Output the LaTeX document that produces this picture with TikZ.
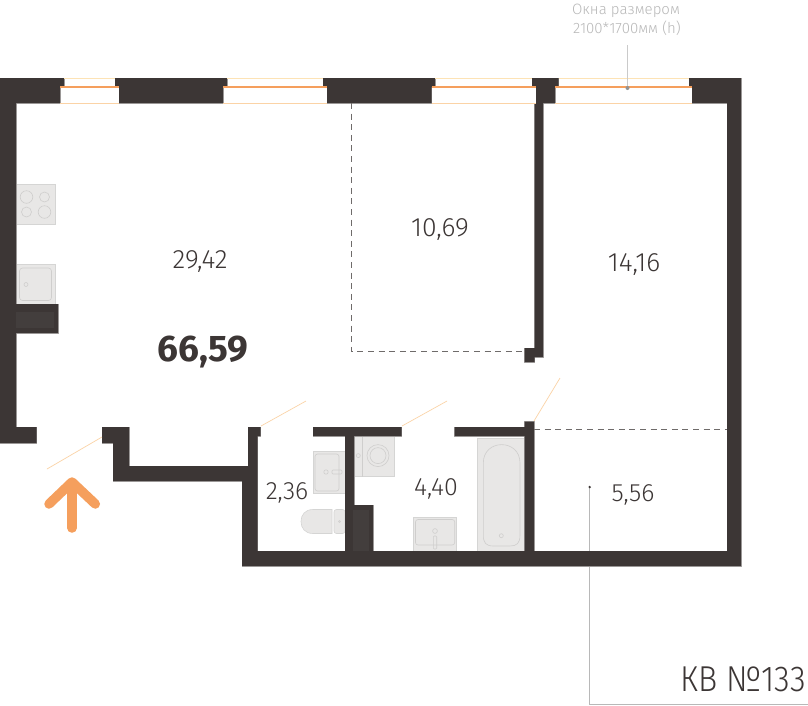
\documentclass[tikz,border=0pt]{standalone}
\usepackage{fontspec}
\setmainfont{Fira Sans}[UprightFont=* Light,BoldFont=* Bold]
\definecolor{wallc}{HTML}{3C3635}
\definecolor{edgec}{HTML}{A8A5A4}
\definecolor{shaftc}{HTML}{433E3D}
\definecolor{orangec}{HTML}{F59F5D}
\definecolor{swingc}{HTML}{FBD3A6}
\definecolor{wintop}{HTML}{FDE3B5}
\definecolor{fixfill}{HTML}{E8E7E6}
\definecolor{fixline}{HTML}{CFCECD}
\definecolor{leadc}{HTML}{B8B8B8}
\definecolor{dashc}{HTML}{6F6B6A}
\tikzset{
  x=1pt,y=-1pt,
  wallfill/.style={fill=wallc,draw=none},
  walledge/.style={draw=edgec,line width=0.9pt},
  shaft/.style={fill=shaftc,draw=none},
  fixture/.style={fill=fixfill,draw=fixfill!92!black,line width=0.6pt},
  fixdetail/.style={draw=fixline,line width=0.6pt,fill=none},
  swing/.style={draw=swingc,line width=0.7pt},
  glass/.style={draw=orangec,line width=2.2pt},
  wintopline/.style={draw=wintop,line width=0.9pt},
  winbotline/.style={draw=swingc,line width=0.8pt},
  partition/.style={draw=dashc,line width=0.7pt,dash pattern=on 6pt off 4.6pt},
  leader/.style={draw=leadc,line width=0.7pt},
  area/.style={text=wallc,font=\fontsize{26.5}{26.5}\selectfont,inner sep=0pt},
  areasmall/.style={text=wallc,font=\fontsize{25}{25}\selectfont,inner sep=0pt},
  total/.style={text=wallc,font=\fontsize{37}{37}\selectfont\bfseries,inner sep=0pt},
  note/.style={text=leadc,font=\fontsize{15}{15}\selectfont,inner sep=0pt},
  entry/.style={draw=orangec,line width=9.5pt,line cap=round,line join=round},
}
\newcommand{\wallshapes}{
  (0,78) -- (64,78) -- (64,87) -- (60,87) -- (60,103) -- (16,103) -- (16,427) -- (36.5,427) -- (36.5,443) -- (0,443) -- cycle
  (115,78) -- (227,78) -- (227,87) -- (223,87) -- (223,103) -- (119,103) -- (119,87) -- (115,87) -- cycle
  (323,78) -- (435,78) -- (435,87) -- (431.5,87) -- (431.5,103) -- (327,103) -- (327,87) -- (323,87) -- cycle
  (532,78) -- (558.5,78) -- (558.5,87) -- (555,87) -- (555,103) -- (543,103) -- (543,357) -- (534.5,357) -- (534.5,362) -- (524.5,362) -- (524.5,348) -- (534.5,348) -- (534.5,103) -- (536,103) -- (536,87) -- (532,87) -- cycle
  (689,78) -- (741,78) -- (741,566) -- (242,566) -- (242,481) -- (113,481) -- (113,443) -- (102,443) -- (102,427) -- (129,427) -- (129,466) -- (248,466) -- (248,427) -- (260.5,427) -- (260.5,436) -- (257.5,436) -- (257.5,551) -- (345,551) -- (345,436) -- (313,436) -- (313,427) -- (401.5,427) -- (401.5,436) -- (354,436) -- (354,505) -- (373,505) -- (373,551) -- (524.7,551) -- (524.7,436) -- (454.5,436) -- (454.5,427) -- (524.7,427) -- (524.7,421.5) -- (534,421.5) -- (534,551) -- (727,551) -- (727,103) -- (692,103) -- (692,87) -- (689,87) -- cycle
  (16,304) -- (58,304) -- (58,333) -- (16,333) -- cycle
}
\begin{document}
\begin{tikzpicture}
\useasboundingbox (0,0) rectangle (808,705);
\fill[white] (0,0) rectangle (808,705);

% leaders beneath the walls
\coordinate (leadstart) at (589.7,487);
\coordinate (leadcorner) at (589.7,704);
\coordinate (leadend) at (808,704);
\draw[leader] (leadstart) -- (leadcorner) -- (leadend);
\fill[wallc] (leadstart) circle (1.3);

% fixtures
\draw[fixture] (16,184) rectangle (55.5,224);
\draw[fixdetail] (26.5,197) circle (6.3) (44.5,197) circle (5) (26.5,212) circle (5) (44.5,212) circle (6.3);
\draw[fixture] (16,264) rectangle (55.5,304);
\draw[fixdetail,rounded corners=3pt] (19.5,268) rectangle (51.5,300.5);
\draw[fixdetail] (26,284.5) circle (2);

\draw[fixture] (313,451.5) rectangle (345,493.5);
\draw[fixdetail,rounded corners=2.5pt] (315,454) rectangle (339,491);
\draw[fixdetail] (326,472) circle (2.2);
\draw[fixdetail,rounded corners=1pt] (332,470) rectangle (342,474);
\draw[fixture] (332,509.5) -- (313,509.5) .. controls (305,509.5) and (301,515) .. (301,521.5) .. controls (301,528) and (305,533.5) .. (313,533.5) -- (332,533.5) -- cycle;
\draw[fixture,rounded corners=2.5pt] (334,509.5) rectangle (345,533.5);
\draw[fixdetail] (339.5,521.5) circle (1);

\draw[fixture] (354,436) rectangle (394.7,476.7);
\draw[fixdetail] (362.5,436) -- (362.5,476.7);
\draw[fixdetail] (358.3,455.6) circle (2) (378,455.6) circle (11) (378,455.6) circle (8);

\draw[fixture] (413.5,517.5) rectangle (456.7,551);
\draw[fixdetail,rounded corners=2.5pt] (415.5,519.5) rectangle (454.7,545);
\draw[fixdetail] (435,531) circle (2.4);
\draw[fixdetail,rounded corners=1pt] (433.3,536) rectangle (436.7,549);

\draw[fixture] (477.7,438.3) rectangle (524.7,551);
\draw[fixdetail] (483.3,535) -- (483.3,463) .. controls (483.3,438.5) and (520,438.5) .. (520,463) -- (520,535) .. controls (520,543) and (517,546) .. (510,546) -- (493.5,546) .. controls (486,546) and (483.3,543) .. (483.3,535) -- cycle;
\draw[fixdetail] (501.3,535.7) circle (2);

% walls
\draw[walledge] \wallshapes;
\fill[wallfill] \wallshapes;
\fill[shaft] (352.7,510) rectangle (369,551);
\fill[shaft] (16,312) rectangle (54,328);

% windows
\foreach \a/\b/\c/\d in {64/115/60/119,227/323/223/327,435/532/431.5/536,558.5/689/555/692}{
  \draw[wintopline] (\a,78) -- (\b,78);
  \draw[winbotline] (\c,103) -- (\d,103);
  \draw[glass] (\c,87.3) -- (\d,87.3);
}

% window note
\node[note] (notea) at (626,10.5) {Окна размером};
\node[note] (noteb) at (627,28.5) {2100*1700мм (h)};
\coordinate (notefoot) at (627.5,88);
\draw[draw=leadc!75,line width=0.6pt] (627.5,45) -- (notefoot);
\fill[leadc!80!black] (notefoot) circle (2);

% partitions
\draw[partition] (351,103) -- (351,351) -- (524.5,351);
\draw[partition] (534,429) -- (727,429);

% door swings
\draw[swing] (47,469) -- (102,437);
\draw[swing] (261,426) -- (306,401);
\draw[swing] (402,426) -- (447,401);
\draw[swing] (534,421) -- (560,378);

% entrance arrow
\draw[entry] (72,528) -- (72,484);
\draw[entry] (49,504) -- (72,482) -- (95.3,504);

% labels
\node[area] (a1) at (200,262) {29,42};
\node[area] (a2) at (440,230) {10,69};
\node[area] (a3) at (634,265) {14,16};
\node[total] (a0) at (203,352) {66,59};
\node[areasmall] (a4) at (287,493) {2,36};
\node[areasmall] (a5) at (436,489) {4,40};
\node[areasmall] (a6) at (633,495) {5,56};
\node[text=wallc,inner sep=0pt,anchor=east,font=\fontsize{36}{36}\selectfont,xscale=0.89] (apt) at (806,679) {КВ №133};
\end{tikzpicture}
\end{document}
